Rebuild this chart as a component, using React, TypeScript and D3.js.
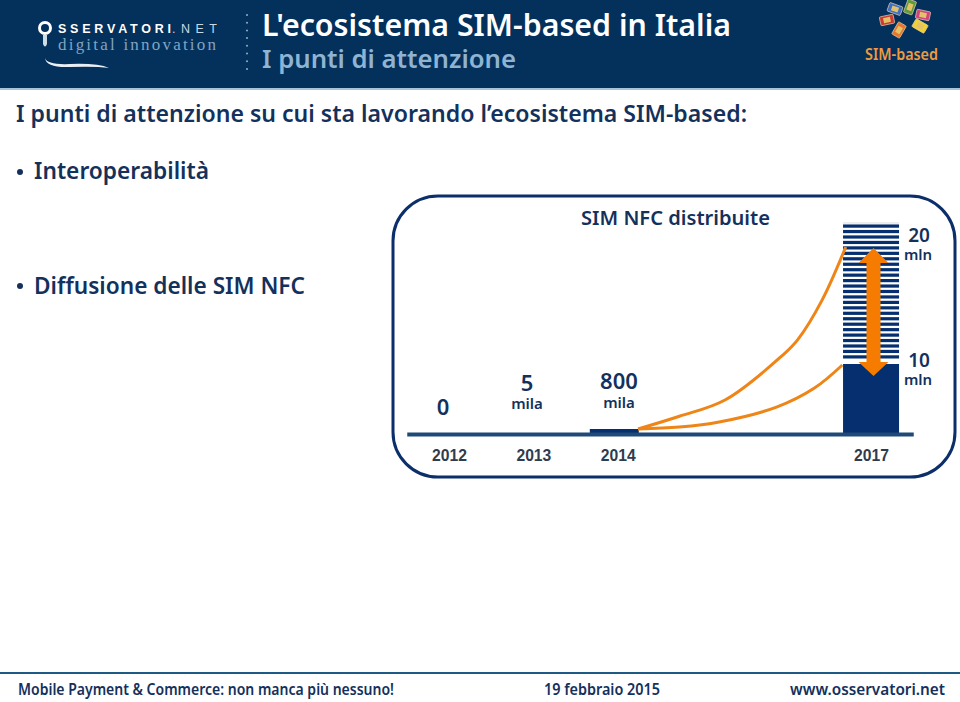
import React from 'react';
import * as d3 from 'd3';

const years = [2012, 2013, 2014, 2017];
const barValues = [
  { year: 2014, value: 800000, width: 49 },
  { year: 2017, value: 10000000, width: 56 },
];
const stripeRange = { year: 2017, from: 10000000, to: 20000000, width: 56 };

// [year, SIM distributed]
const upperCurve: [number, number][] = [
  [2014.24, 800000],
  [2014.73, 2600000],
  [2015.27, 4900000],
  [2015.95, 10600000],
  [2016.13, 11700000],
  [2016.42, 14500000],
  [2016.7, 18240000],
];
const lowerCurve: [number, number][] = [
  [2014.24, 800000],
  [2014.73, 1080000],
  [2015.2, 1790000],
  [2015.88, 3900000],
  [2016.33, 6600000],
  [2016.66, 9860000],
];

const valueLabels = [
  { main: '0', sub: '', x: 443, y: 415, subY: 0 },
  { main: '5', sub: 'mila', x: 527, y: 391, subY: 409 },
  { main: '800', sub: 'mila', x: 619, y: 389, subY: 408 },
  { main: '20', sub: 'mln', x: 919, y: 242, subY: 260 },
  { main: '10', sub: 'mln', x: 919, y: 367, subY: 385 },
];

const sims = [
  { x: 895, y: 9, r: 20, c: '#3f6fc4' },
  { x: 910, y: 7, r: -70, c: '#5f9b3a' },
  { x: 923, y: 15, r: 12, c: '#d0437f' },
  { x: 920, y: 26, r: 30, c: '#f2d22e' },
  { x: 899, y: 30, r: -60, c: '#e8762c' },
  { x: 887, y: 20, r: -12, c: '#cc3b32' },
];

const NAVY = '#04305c';
const BAR = '#052f6e';
const ORANGE = '#f57c00';
const FONT = '"Noto Sans", sans-serif';

export default function App() {
  const svgRef = React.useRef<SVGSVGElement | null>(null);

  React.useEffect(() => {
    const svg = d3.select(svgRef.current);
    svg.selectAll('*').remove();

    const x = d3.scaleLinear().domain([2011.5, 2017.5]).range([406.75, 913.25]);
    const y = d3
      .scaleLinear()
      .domain([0, 800000, 10000000, 20000000])
      .range([434, 429, 364, 222]);

    const text = (
      s: string,
      tx: number,
      ty: number,
      size: number,
      fill: string,
      len?: number,
      family = FONT,
      weight = '600',
      adjust = 'spacingAndGlyphs',
    ) => {
      const t = svg
        .append('text')
        .attr('x', tx)
        .attr('y', ty)
        .attr('font-size', size)
        .attr('font-family', family)
        .attr('font-weight', weight)
        .attr('fill', fill)
        .text(s);
      if (len) t.attr('textLength', len).attr('lengthAdjust', adjust);
      return t;
    };

    // Header
    svg.append('rect').attr('width', 960).attr('height', 88).attr('fill', NAVY);
    svg.append('rect').attr('y', 88).attr('width', 960).attr('height', 2).attr('fill', '#a8c3d8');

    // Logo
    svg.append('circle').attr('cx', 45).attr('cy', 28).attr('r', 5.5)
      .attr('fill', 'none').attr('stroke', '#fff').attr('stroke-width', 3);
    svg.append('path').attr('d', 'M43 35 L47 35 L47 44 Q45 49 43 44 Z').attr('fill', '#cfdde8');
    text('SSERVATORI', 58, 33, 12.5, '#fff', 113, '"Liberation Sans", sans-serif', 'bold', 'spacing');
    text('.NET', 172, 33, 12.5, '#c9d8e4', 45, '"Liberation Sans", sans-serif', 'normal', 'spacing');
    text('digital innovation', 58, 50, 17, '#7fa5c2', 158, '"Liberation Serif", serif', 'normal', 'spacing');
    svg.append('path').attr('d', 'M45 58 Q47 65 70 64 Q98 63 109 68 Q95 66 70 67 Q46 68 45 58 Z').attr('fill', '#e8eef3');
    svg.append('g').selectAll('circle').data(d3.range(8)).join('circle')
      .attr('cx', 247).attr('cy', d => 15 + d * 7.7).attr('r', 1).attr('fill', '#8fb0c8');

    text("L'ecosistema SIM-based in Italia", 262, 36, 30, '#fff', 469);
    text('I punti di attenzione', 262, 68, 26, '#8fb4d2', 254);

    // SIM icons
    const simG = svg.append('g').selectAll('g').data(sims).join('g')
      .attr('transform', d => `translate(${d.x},${d.y}) rotate(${d.r})`);
    simG.append('rect').attr('x', -7).attr('y', -4.5).attr('width', 14).attr('height', 9).attr('rx', 1)
      .attr('fill', d => d.c).attr('stroke', '#d8c9a8').attr('stroke-width', 0.7);
    simG.append('rect').attr('x', -3.5).attr('y', -2.5).attr('width', 7).attr('height', 5).attr('fill', '#e3c36a');
    text('SIM-based', 865, 60, 15.5, '#f09a3e', 73);

    // Body text
    const BODY = '#14315c';
    text('I punti di attenzione su cui sta lavorando l’ecosistema SIM-based:', 16, 122, 23, BODY, 731);
    text('Interoperabilità', 34, 179, 23, BODY, 175);
    text('Diffusione delle SIM NFC', 34, 294, 23, BODY, 271);
    svg.append('g').selectAll('circle').data([172, 286]).join('circle')
      .attr('cx', 20).attr('cy', d => d).attr('r', 3).attr('fill', BODY);

    // Panel
    svg.append('rect').attr('x', 393).attr('y', 196).attr('width', 562).attr('height', 281).attr('rx', 45)
      .attr('fill', '#fff').attr('stroke', '#0c2f6b').attr('stroke-width', 3);
    text('SIM NFC distribuite', 581, 225, 20.5, BODY, 189);

    // Striped part of the 2017 bar
    const stripeX = x(stripeRange.year) - stripeRange.width / 2;
    const stripeTop = y(stripeRange.to);
    svg.append('rect').attr('x', stripeX).attr('y', stripeTop).attr('width', stripeRange.width).attr('height', 5).attr('fill', '#eeeeee');
    svg.append('g').selectAll('rect').data(d3.range(25)).join('rect')
      .attr('x', stripeX)
      .attr('y', d => stripeTop + 2.5 + d * 5.45)
      .attr('width', stripeRange.width)
      .attr('height', 3.2)
      .attr('fill', BAR);

    // Bars
    svg.append('g').selectAll('rect').data(barValues).join('rect')
      .attr('x', d => x(d.year) - 28)
      .attr('y', d => y(d.value))
      .attr('width', d => d.width)
      .attr('height', d => y(0) - y(d.value))
      .attr('fill', BAR);

    // Axis
    const axis = d3.axisBottom(x).tickValues(years).tickFormat(d3.format('d')).tickSize(0).tickPadding(16);
    svg.append('g')
      .attr('transform', `translate(0,${y(0)})`)
      .call(axis as any)
      .call(g => g.select('.domain').attr('stroke', '#1f4a78').attr('stroke-width', 4))
      .call(g => g.selectAll('text')
        .attr('font-size', 15.7)
        .attr('font-weight', 'bold')
        .attr('font-family', '"Liberation Sans", sans-serif')
        .attr('fill', '#2f3b4f'));

    // Curves
    const line = d3.line<[number, number]>()
      .x(d => x(d[0]))
      .y(d => y(d[1]))
      .curve(d3.curveCatmullRom);
    svg.append('g').selectAll('path').data([upperCurve, lowerCurve]).join('path')
      .attr('d', d => line(d))
      .attr('fill', 'none')
      .attr('stroke', '#ee8516')
      .attr('stroke-width', 3);

    // Double arrow between the two forecasts
    const ax = 873.5;
    const t = y(20000000) + 26;
    const b = y(10000000) + 12;
    svg.append('path')
      .attr('d', `M${ax} ${t} L${ax + 15} ${t + 15} L${ax + 7} ${t + 15} L${ax + 7} ${b - 14} L${ax + 15} ${b - 14} L${ax} ${b} L${ax - 15} ${b - 14} L${ax - 7} ${b - 14} L${ax - 7} ${t + 15} L${ax - 15} ${t + 15} Z`)
      .attr('fill', ORANGE);

    // Value labels
    valueLabels.forEach(l => {
      const big = l.main === '20' || l.main === '10' ? 19 : 22;
      text(l.main, l.x, l.y, big, BODY).attr('text-anchor', 'middle');
      if (l.sub) text(l.sub, l.x - (big === 19 ? 1 : 0), l.subY, 15, BODY).attr('text-anchor', 'middle');
    });

    // Footer
    svg.append('rect').attr('y', 672).attr('width', 960).attr('height', 2).attr('fill', '#1d5a86');
    text('Mobile Payment & Commerce: non manca più nessuno!', 18, 695, 16, BODY, 376);
    text('19 febbraio 2015', 544, 695, 16, BODY, 116);
    text('www.osservatori.net', 790, 695, 16, BODY, 155);
  }, []);

  return (
    <svg
      ref={svgRef}
      width={960}
      height={702}
      style={{ position: 'absolute', left: 0, top: 0, background: '#fff' }}
    />
  );
}
